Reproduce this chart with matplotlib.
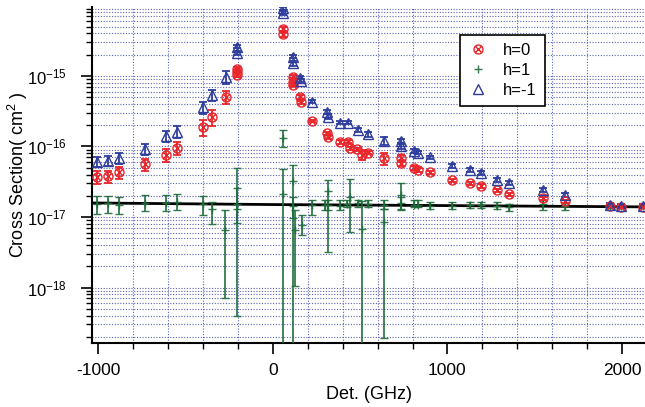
import numpy as np
import matplotlib
matplotlib.use("Agg")
import matplotlib.pyplot as plt
from matplotlib.path import Path
from matplotlib.ticker import MultipleLocator, FixedLocator, LogFormatterMathtext, NullFormatter

plt.rcParams['font.family'] = ['Liberation Sans', 'DejaVu Sans']
plt.rcParams['mathtext.default'] = 'regular'
plt.rcParams['axes.unicode_minus'] = False

# h=0 (red)
det_h0 = [-1007, -942, -879, -735, -611, -548, -401, -350, -269, -205, -205, -205,
          56, 56, 116, 118, 116, 155, 162, 225, 308, 318, 384, 432, 440, 484, 509,
          546, 636, 734, 734, 808, 833, 900, 1024, 1129, 1190, 1282, 1352, 1546,
          1673, 1931, 1993, 2122]
sig_h0 = [3.7e-17, 3.8e-17, 4.3e-17, 5.6e-17, 7.6e-17, 9.6e-17, 1.9e-16, 2.6e-16,
          5.1e-16, 1.26e-15, 1.15e-15, 1.03e-15, 4.6e-15, 3.9e-15, 9.8e-16, 8.3e-16,
          7.5e-16, 5.0e-16, 4.3e-16, 2.3e-16, 1.54e-16, 1.35e-16, 1.16e-16, 1.17e-16,
          9.4e-17, 9.1e-17, 7.6e-17, 8.2e-17, 6.8e-17, 6.9e-17, 5.8e-17, 5.0e-17,
          4.7e-17, 4.3e-17, 3.3e-17, 3.0e-17, 2.76e-17, 2.4e-17, 2.1e-17, 1.85e-17,
          1.66e-17, 1.45e-17, 1.4e-17, 1.4e-17]
err_h0 = [0.75e-17, 0.75e-17, 0.8e-17, 1.1e-17, 1.5e-17, 2.0e-17, 0.5e-16, 0.65e-16,
          1.1e-16, 0.6e-16, 0.6e-16, 0.6e-16, 0.3e-15, 0.3e-15, 0.5e-16, 0.4e-16,
          0.4e-16, 0.3e-16, 0.3e-16, 0.1e-16, 0.8e-17, 0.8e-17, 0.6e-17, 0.6e-17,
          0.5e-17, 0.5e-17, 1.2e-17, 0.5e-17, 1.3e-17, 0.6e-17, 0.5e-17, 0.3e-17,
          0.3e-17, 0.2e-17, 0.15e-17, 0.15e-17, 0.15e-17, 0.12e-17, 0.1e-17,
          0.1e-17, 0.1e-17, 0.08e-17, 0.08e-17, 0.08e-17]

# h=-1 (blue)
det_hm1 = [-1007, -942, -879, -735, -611, -548, -401, -350, -269, -205, -205,
           56, 56, 116, 116, 155, 162, 225, 308, 316, 384, 432, 489, 546, 636,
           734, 734, 808, 833, 900, 1024, 1129, 1190, 1282, 1352, 1546, 1673,
           1931, 1993, 2122]
sig_hm1 = [6.1e-17, 6.3e-17, 6.9e-17, 9.1e-17, 1.4e-16, 1.62e-16, 3.6e-16, 5.4e-16,
           9.6e-16, 2.6e-15, 2.1e-15, 9.1e-15, 7.9e-15, 1.88e-15, 1.5e-15, 9.4e-16,
           8.6e-16, 4.3e-16, 3.05e-16, 2.65e-16, 2.18e-16, 2.18e-16, 1.71e-16,
           1.49e-16, 1.2e-16, 1.2e-16, 1.0e-16, 8.6e-17, 8.1e-17, 7.0e-17, 5.3e-17,
           4.65e-17, 4.2e-17, 3.35e-17, 3.0e-17, 2.42e-17, 2.05e-17, 1.5e-17,
           1.42e-17, 1.42e-17]
err_hm1 = [1.0e-17, 1.1e-17, 1.2e-17, 1.6e-17, 2.5e-17, 3.0e-17, 0.7e-16, 1.0e-16,
           2.0e-16, 1.5e-16, 1.5e-16, 0.5e-15, 0.5e-15, 1.0e-16, 1.0e-16, 0.5e-16,
           0.5e-16, 0.2e-16, 0.2e-16, 0.2e-16, 0.12e-16, 0.12e-16, 0.1e-16,
           0.12e-16, 1.5e-17, 0.8e-17, 0.8e-17, 0.5e-17, 0.4e-17, 0.3e-17, 0.3e-17,
           0.3e-17, 0.25e-17, 0.2e-17, 0.2e-17, 0.15e-17, 0.15e-17, 0.1e-17,
           0.1e-17, 0.1e-17]

# h=1 (green): value with lower / upper ends of the bar
det_h1 = [-1007, -942, -879, -735, -611, -548, -401, -350, -273, -205, -205,
          56, 56, 117, 117, 125, 165, 225, 298, 316, 316, 384, 425, 440, 489,
          509, 546, 636, 636, 734, 734, 808, 833, 900, 1024, 1129, 1190, 1282,
          1352, 1546, 1673, 1931, 1993, 2122]
sig_h1 = [1.55e-17, 1.6e-17, 1.5e-17, 1.6e-17, 1.58e-17, 1.65e-17, 1.55e-17,
          1.3e-17, 6.6e-18, 1.3e-17, 1.55e-17, 1.3e-16, 2.1e-17, 3.2e-17,
          1.45e-17, 6.6e-18, 7.7e-18, 1.48e-17, 1.48e-17, 2.3e-17, 1.48e-17,
          1.45e-17, 1.55e-17, 1.95e-17, 1.6e-17, 6.8e-18, 1.55e-17, 1.48e-17,
          8.5e-18, 2.05e-17, 1.58e-17, 1.5e-17, 1.5e-17, 1.45e-17, 1.45e-17,
          1.48e-17, 1.48e-17, 1.45e-17, 1.38e-17, 1.55e-17, 1.42e-17, 1.45e-17,
          1.45e-17, 1.45e-17]
lo_h1 = [1.12e-17, 1.15e-17, 1.1e-17, 1.2e-17, 1.2e-17, 1.25e-17, 1.05e-17,
         8.0e-18, 7.2e-19, 4.0e-19, 8.2e-18, 9.8e-17, 1e-20, 1e-20, 9.6e-18,
         1.05e-18, 5.5e-18, 1.07e-17, 1.25e-17, 3.2e-18, 1.25e-17, 1.25e-17,
         1.4e-17, 6.1e-18, 1.4e-17, 1e-20, 1.4e-17, 1.3e-17, 1.9e-19, 1.26e-17,
         1.3e-17, 1.39e-17, 1.39e-17, 1.3e-17, 1.28e-17, 1.33e-17, 1.33e-17,
         1.3e-17, 1.2e-17, 1.26e-17, 1.24e-17, 1.35e-17, 1.35e-17, 1.35e-17]
hi_h1 = [2.0e-17, 2.0e-17, 1.9e-17, 2.05e-17, 2.03e-17, 2.1e-17, 2.0e-17,
         1.65e-17, 1.26e-17, 5.0e-17, 2.6e-17, 1.7e-16, 4.8e-17, 5.5e-17,
         1.95e-17, 1.24e-17, 1.07e-17, 1.74e-17, 1.74e-17, 3.35e-17, 1.74e-17,
         1.74e-17, 1.75e-17, 3.4e-17, 1.75e-17, 1.7e-17, 1.74e-17, 1.74e-17,
         1.3e-17, 3.0e-17, 1.9e-17, 1.74e-17, 1.74e-17, 1.65e-17, 1.63e-17,
         1.65e-17, 1.65e-17, 1.62e-17, 1.55e-17, 1.74e-17, 1.6e-17, 1.55e-17,
         1.55e-17, 1.55e-17]

# flat fit through the h=1 data
fit_det = [-1035, 0, 1000, 2135]
fit_sig = [1.58e-17, 1.5e-17, 1.45e-17, 1.39e-17]

red = '#e8262b'
green = '#1d6b3a'
blue = '#2e3d9c'

# circle with a cross inside
circ_x = Path.make_compound_path(
    Path.unit_circle(),
    Path([(-0.7, -0.7), (0.7, 0.7)], [Path.MOVETO, Path.LINETO]),
    Path([(-0.7, 0.7), (0.7, -0.7)], [Path.MOVETO, Path.LINETO]))

fig = plt.figure(figsize=(6.45, 4.07), dpi=100)
ax = fig.add_axes([0.143, 0.157, 0.857, 0.826])

sig_h1 = np.array(sig_h1)
yerr_h1 = [sig_h1 - np.array(lo_h1), np.array(hi_h1) - sig_h1]

ax.plot(fit_det, fit_sig, color='black', lw=2, zorder=2)
g = ax.errorbar(det_h1, sig_h1, yerr=yerr_h1, fmt='+', color=green, ms=6, mew=1,
                elinewidth=1.3, capsize=3.2, capthick=1.3, alpha=0.9, zorder=3)
ax.errorbar(det_h0, sig_h0, yerr=err_h0, fmt='none', ecolor=red,
            elinewidth=1.3, capsize=3.2, capthick=1.3, zorder=4)
ax.errorbar(det_hm1, sig_hm1, yerr=err_hm1, fmt='none', ecolor=blue,
            elinewidth=1.3, capsize=3.2, capthick=1.3, zorder=4)
h0, = ax.plot(det_h0, sig_h0, ls='none', marker=circ_x, ms=6.5, mew=1,
              mfc='none', mec=red, zorder=5)
hm1, = ax.plot(det_hm1, sig_hm1, ls='none', marker='^', ms=6.5, mew=1,
               mfc='none', mec=blue, zorder=5)

ax.set_yscale('log')
ax.set_xlim(-1035, 2132)
ax.set_ylim(1.63e-19, 9.5e-15)

ax.xaxis.set_major_locator(FixedLocator([-1000, 0, 1000, 2000]))
ax.xaxis.set_minor_locator(MultipleLocator(200))
decades = [1e-18, 1e-17, 1e-16, 1e-15]
minors = [m * d for d in [1e-19] + decades for m in range(2, 10)]
minors = [v for v in minors if 1.63e-19 <= v <= 9.5e-15]
ax.yaxis.set_major_locator(FixedLocator(decades))
ax.yaxis.set_major_formatter(LogFormatterMathtext())
ax.yaxis.set_minor_locator(FixedLocator(minors))
ax.yaxis.set_minor_formatter(NullFormatter())

grid_kw = dict(color='#5b63b5', ls=(0, (1, 1.5)), lw=0.8)
ax.grid(True, which='both', axis='y', **grid_kw)
ax.grid(True, which='minor', axis='x', **grid_kw)
ax.set_axisbelow(True)

for s in ['top', 'right']:
    ax.spines[s].set_visible(False)
for s in ['left', 'bottom']:
    ax.spines[s].set_linewidth(1.5)

ax.tick_params(which='major', direction='out', length=8, width=1.2,
               labelsize=12.5, pad=6)
ax.tick_params(which='minor', direction='out', length=4, width=1)
ax.tick_params(axis='y', which='major', labelsize=12, pad=10)

ax.set_xlabel('Det. (GHz)', fontsize=13, labelpad=6)
ax.set_ylabel('Cross Section( cm$^2$ )', fontsize=13)
ax.yaxis.set_label_coords(-0.112, 0.5)

leg_handles = [h0, g.lines[0], hm1]
leg = ax.legend(leg_handles, ['h=0', 'h=1', 'h=-1'], loc='upper left',
                bbox_to_anchor=(0.665, 0.917), borderaxespad=0, fontsize=12,
                frameon=True, fancybox=False, edgecolor='black', framealpha=1,
                handlelength=1.2, handletextpad=0.9, borderpad=0.5,
                labelspacing=0.3)
leg.get_frame().set_linewidth(1.2)

fig.savefig('out.png', dpi=100)
